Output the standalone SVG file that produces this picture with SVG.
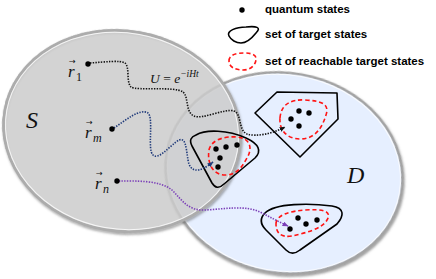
<svg xmlns="http://www.w3.org/2000/svg" width="436" height="279" viewBox="0 0 436 279">
<style>
.lbl{font-family:"Liberation Sans",Arial,sans-serif;font-weight:bold;font-size:11.5px;fill:#000}
.m{font-family:"Liberation Serif","DejaVu Serif",serif;font-style:italic;fill:#111}
.mr{font-family:"Liberation Serif","DejaVu Serif",serif;fill:#111}
.vec{font-family:"DejaVu Sans","Liberation Sans",sans-serif;fill:#111;font-size:8px}
.tgt{fill:none;stroke:#000;stroke-width:1.6;stroke-linejoin:round}
.reach{fill:none;stroke:#ff1414;stroke-width:1.6;stroke-dasharray:4.2 2.8}
.dot{fill:#000}
.path{fill:none;stroke-width:1.6;stroke-dasharray:1.4 1.3}
.rim{fill:none;stroke:#fff;stroke-width:1;opacity:0.8}
</style>
<defs>
<filter id="sh" x="-10%" y="-10%" width="125%" height="125%">
<feDropShadow dx="1.2" dy="1.6" stdDeviation="1.2" flood-color="#555" flood-opacity="0.6"/>
</filter>
<marker id="ak" markerUnits="userSpaceOnUse" markerWidth="6" markerHeight="5" refX="5.5" refY="2.5" orient="auto"><path d="M0,0 L6,2.5 L0,5 Z" fill="#111"/></marker>
<marker id="ab" markerUnits="userSpaceOnUse" markerWidth="6" markerHeight="5" refX="5.5" refY="2.5" orient="auto"><path d="M0,0 L6,2.5 L0,5 Z" fill="#1f3a7a"/></marker>
<marker id="ap" markerUnits="userSpaceOnUse" markerWidth="6" markerHeight="5" refX="5.5" refY="2.5" orient="auto"><path d="M0,0 L6,2.5 L0,5 Z" fill="#7b3fb8"/></marker>
</defs>
<rect width="436" height="279" fill="#fff"/>

<g id="set-D">
<ellipse cx="284" cy="173" rx="119" ry="100" transform="rotate(10 284 173)" fill="#e6efff" stroke="#a3a3a3" stroke-width="2.6" filter="url(#sh)"/>
<ellipse cx="284" cy="173" rx="117" ry="98" transform="rotate(10 284 173)" class="rim"/>
<text class="m" x="347" y="183" font-size="24">D</text>
</g>

<g id="set-S">
<ellipse cx="122" cy="131" rx="119" ry="100" transform="rotate(10 122 131)" fill="none" stroke="#a9a9a9" stroke-width="2.6" filter="url(#sh)"/>
<ellipse cx="122" cy="131" rx="118" ry="99" transform="rotate(10 122 131)" fill="#cbcbcb" fill-opacity="0.85"/>
<ellipse cx="122" cy="131" rx="119" ry="100" transform="rotate(10 122 131)" fill="none" stroke="#acacac" stroke-width="2.4"/>
<ellipse cx="122" cy="131" rx="117" ry="98" transform="rotate(10 122 131)" class="rim"/>
<text class="m" x="26" y="128" font-size="24">S</text>
</g>

<g id="target-mid">
<path class="tgt" d="M196,135 C206,129 228,130 246,138 C259,144 262,151 255,158 L224,184 C219,189 215,188 212,183 L192,146 C189,140 191,137 196,135 Z"/>
<path class="reach" d="M209,150 C211,140 224,136 237,137 C250,138 253,148 247,158 C242,167 237,175 225,175 C212,175 207,162 209,150 Z"/>
<circle class="dot" cx="216" cy="149" r="2.7"/>
<circle class="dot" cx="226" cy="147" r="2.7"/>
<circle class="dot" cx="237" cy="145" r="2.7"/>
<circle class="dot" cx="220" cy="158" r="2.7"/>
<circle class="dot" cx="218" cy="167" r="2.7"/>
</g>

<g id="target-top">
<polygon class="tgt" points="255,113 277,92 337,93 338,119 300,157"/>
<path class="reach" d="M280,118 C281,105 290,99 305,100 C320,101 330,103 326,115 C322,128 315,139 300,139 C287,139 279,130 280,118 Z"/>
<circle class="dot" cx="299" cy="111" r="2.7"/>
<circle class="dot" cx="309" cy="113" r="2.7"/>
<circle class="dot" cx="291" cy="119" r="2.7"/>
<circle class="dot" cx="299" cy="126" r="2.7"/>
</g>

<g id="target-bottom">
<path class="tgt" d="M265,213 C275,203 310,203 332,206 C345,208 344,216 337,224 L300,250 C295,254 290,254 286,250 L266,230 C260,224 260,218 265,213 Z"/>
<path class="reach" d="M276,224 C276,215 290,211 305,210 C320,209 333,210 327,220 C322,229 305,233 292,236 C280,238 276,232 276,224 Z"/>
<circle class="dot" cx="298" cy="218" r="2.7"/>
<circle class="dot" cx="317" cy="220" r="2.7"/>
<circle class="dot" cx="306" cy="224" r="2.7"/>
<circle class="dot" cx="290" cy="229" r="2.7"/>
</g>

<g id="connectors">
<path class="path" stroke="#111" marker-end="url(#ak)" d="M90,63 C105,62 120,60 125,63 C130,67 126,82 131,87 C136,91 175,86 183,92 C189,97 185,112 194,116 C202,120 225,108 234,111 C242,114 238,130 247,134 C256,137 272,134 285,127"/>
<path class="path" stroke="#1f3a7a" marker-end="url(#ab)" d="M114,128 C126,120 140,108 148,113 C154,118 147,150 153,155 C158,160 168,148 176,142 C186,134 186,148 188,160 C190,172 198,174 213,162"/>
<path class="path" stroke="#7b3fb8" marker-end="url(#ap)" d="M119,181 C135,181 160,180 172,190 C182,200 188,211 205,210 C225,209 245,205 260,212 C270,217 279,222 288,226"/>
</g>

<g id="state-r1">
<circle class="dot" cx="88" cy="64" r="2.7"/>
<text class="vec" x="69" y="64">→</text>
<text class="m" x="68" y="77" font-size="17">r</text>
<text class="mr" x="76" y="81" font-size="12">1</text>
</g>
<g id="state-rm">
<circle class="dot" cx="112" cy="129" r="2.7"/>
<text class="vec" x="86" y="125">→</text>
<text class="m" x="85" y="138" font-size="17">r</text>
<text class="m" x="93" y="142" font-size="12">m</text>
</g>
<g id="state-rn">
<circle class="dot" cx="117" cy="181" r="2.7"/>
<text class="vec" x="96" y="176">→</text>
<text class="m" x="95" y="189" font-size="17">r</text>
<text class="m" x="103" y="193" font-size="12">n</text>
</g>

<g id="operator">
<text x="150" y="83" font-size="13.5"><tspan class="m">U</tspan><tspan class="mr"> = </tspan><tspan class="m">e</tspan><tspan class="m" font-size="9.5" dy="-6">−iHt</tspan></text>
</g>

<g id="legend">
<circle class="dot" cx="242" cy="10" r="2.7"/>
<text class="lbl" x="265" y="13">quantum states</text>
<path class="tgt" d="M229,36 C226,31 236,27 246,27 C256,26 262,27 256,33 C252,38 246,43 241,43 C236,43 231,40 229,36 Z"/>
<text class="lbl" x="265" y="38">set of target states</text>
<path class="reach" d="M229,61 C229,55 236,53 244,53 C252,53 257,55 256,60 C255,66 250,70 243,70 C235,70 229,67 229,61 Z"/>
<text class="lbl" x="265" y="65">set of reachable target states</text>
</g>
</svg>
